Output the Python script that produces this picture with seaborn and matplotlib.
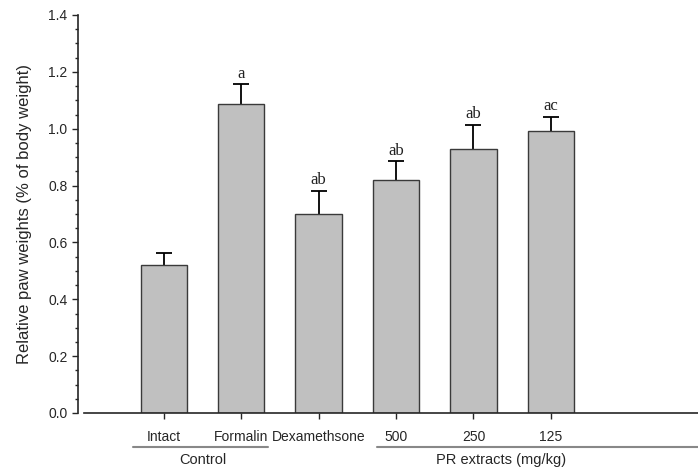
import matplotlib
matplotlib.use("Agg")
import matplotlib.pyplot as plt
import seaborn as sns
import pandas as pd
import numpy as np
from matplotlib.ticker import MultipleLocator

categories = ["Intact", "Formalin", "Dexamethsone", "500", "250", "125"]
values = [0.522, 1.086, 0.700, 0.818, 0.928, 0.991]
errors = [0.040, 0.070, 0.082, 0.067, 0.084, 0.050]
letters = ["", "a", "ab", "ab", "ab", "ac"]
group_names = ["Control", "PR extracts (mg/kg)"]

sns.set_theme(style="ticks")
plt.rcParams['font.family'] = ['Liberation Sans', 'DejaVu Sans']

fig = plt.figure(figsize=(6.98, 4.70), dpi=100)
ax = fig.add_axes([84/698, (470-413)/470, (698-84)/698, (413-15)/470])

df = pd.DataFrame({"cat": categories, "val": values})
sns.barplot(data=df, x="cat", y="val", order=categories, color="#c0c0c0",
            edgecolor="#3a3a3a", linewidth=1.0, width=0.6, saturation=1, ax=ax,
            errorbar=None)

xs = np.arange(len(categories))
_, caplines, _ = ax.errorbar(xs, values, yerr=[np.zeros(len(errors)), errors], fmt="none",
                             ecolor="black", elinewidth=1.3, capsize=5.5, capthick=1.3, zorder=1)
if len(caplines) == 2:
    caplines[0].set_visible(False)
for bar in ax.patches:
    bar.set_zorder(2)

for x, v, e, l in zip(xs, values, errors, letters):
    if l:
        ax.text(x, v + e + 0.01, l, ha="center", va="bottom",
                fontsize=12, family=["Liberation Serif"], color="#222222")

ax.set_xlim(-1.03, 6.9)
ax.set_ylim(0, 1.4)
ax.yaxis.set_major_locator(MultipleLocator(0.2))
ax.yaxis.set_minor_locator(MultipleLocator(0.05))
ax.yaxis.set_major_formatter(matplotlib.ticker.FormatStrFormatter("%.1f"))
ax.set_xlabel("")
ax.set_ylabel("Relative paw weights (% of body weight)", fontsize=12, labelpad=12)

for s in ["top", "right"]:
    ax.spines[s].set_visible(False)
ax.spines["left"].set_position(("outward", 4.3))
ax.spines["left"].set_linewidth(1.2)
ax.spines["bottom"].set_linewidth(1.2)
ax.tick_params(axis="y", which="major", length=4, width=1.0, labelsize=10, direction="out")
ax.tick_params(axis="y", which="minor", length=2.5, width=1.0, direction="out")
ax.tick_params(axis="x", which="major", length=4, width=1.0, labelsize=10, pad=8, direction="out")

group_spans = [(-0.4, 1.35, 0.5), (2.75, 6.9, 4.36)]
for name, (x0, x1, xc) in zip(group_names, group_spans):
    ax.plot([x0, x1], [-0.118, -0.118], color="#888888", lw=1.5, clip_on=False)
    ax.text(xc, -0.14, name, ha="center", va="top", fontsize=10.5)

fig.savefig("out.png", dpi=100)
